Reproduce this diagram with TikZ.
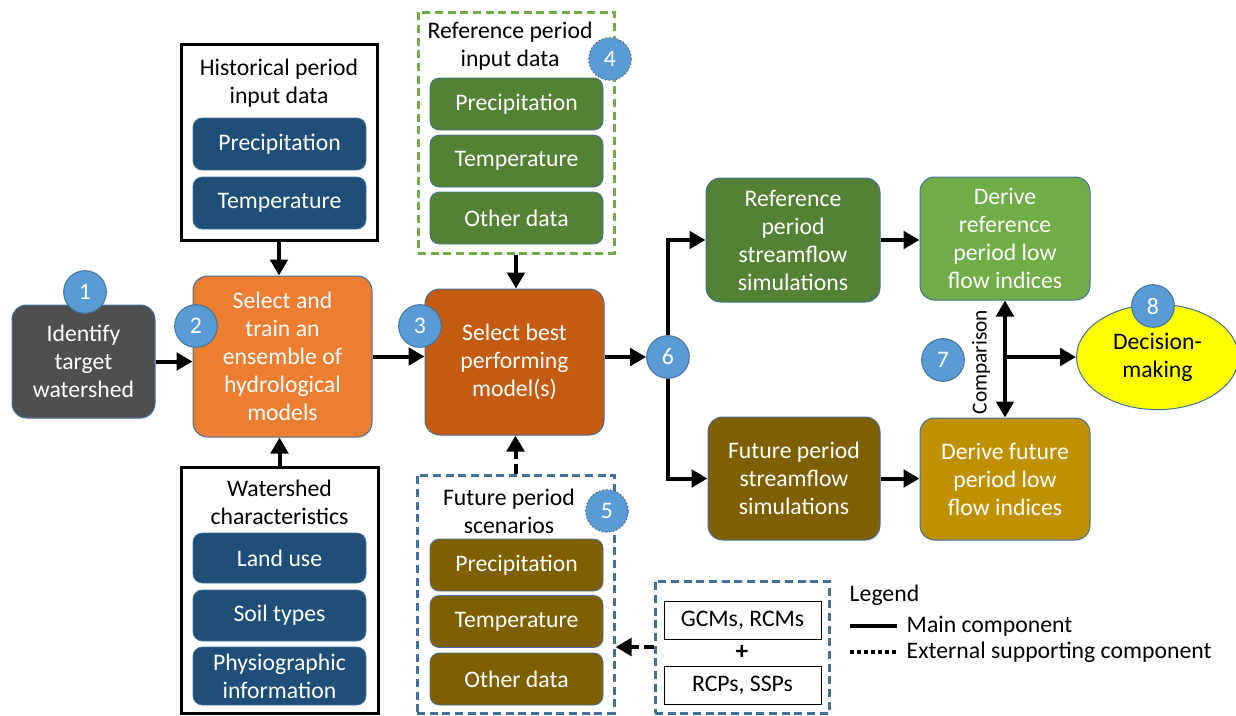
\documentclass[tikz,border=0pt]{standalone}
\usepackage{fontspec}
\setmainfont{Carlito}
\usetikzlibrary{arrows.meta,shapes.geometric}

\definecolor{numblue}{HTML}{5B9BD5}
\definecolor{edgeblue}{HTML}{41719C}
\definecolor{darkgrey}{HTML}{4F4F4F}
\definecolor{orangebox}{HTML}{ED7D31}
\definecolor{rustbox}{HTML}{C55A11}
\definecolor{navybox}{HTML}{1F4E79}
\definecolor{greenbox}{HTML}{548235}
\definecolor{lightgreen}{HTML}{70AD47}
\definecolor{brownbox}{HTML}{7F6000}
\definecolor{goldbox}{HTML}{BF9000}
\definecolor{decyellow}{HTML}{FFFF00}

\tikzset{
  txt/.style={font=\fontsize{17.8}{21}\selectfont},
  procbox/.style={txt, draw=edgeblue, line width=0.75pt, rounded corners=11pt,
    text=white, align=center, inner sep=2pt},
  databox/.style={txt, draw=edgeblue, line width=0.6pt, rounded corners=7pt,
    text=white, align=center, inner sep=1pt,
    minimum width=129.75pt, minimum height=39pt},
  framebox/.style={draw=black, line width=2.25pt, inner sep=0pt},
  dashframe/.style={line width=2.25pt, dash pattern=on 6pt off 3.5pt, inner sep=0pt},
  stepnum/.style={txt, circle, fill=numblue, draw=edgeblue, line width=0.75pt,
    text=white, minimum size=32pt, inner sep=0pt},
  mainarr/.style={line width=3pt, -{Triangle[length=12pt,width=13pt]}},
  extarr/.style={mainarr, dash pattern=on 7pt off 4pt},
  modelbox/.style={txt, draw=black, line width=0.75pt, fill=white,
    minimum width=117.75pt, minimum height=28.5pt, inner sep=1pt},
}

\begin{document}
\begin{tikzpicture}[x=0.75pt,y=0.75pt,yscale=-1]
\useasboundingbox (0,0) rectangle (1236,715);

%Shape: main process boxes
\node[procbox, fill=darkgrey, minimum width=107.25pt, minimum height=84.75pt]
  (identify) at (83.5,361.5) {Identify\\target\\watershed};
\node[procbox, fill=orangebox, minimum width=134.25pt, minimum height=120.75pt]
  (train) at (282.5,356.5) {Select and\\train an\\ensemble of\\hydrological\\models};
\node[procbox, fill=rustbox, minimum width=134.25pt, minimum height=109.5pt]
  (select) at (514.5,362) {Select best\\performing\\model(s)};

%Shape: historical period input data
\node[framebox, minimum width=147pt, minimum height=147pt] (hist) at (279,142) {};
\node[txt, align=center] (histtitle) at (279,83) {Historical period\\input data};
\node[databox, fill=navybox] (histprec) at (279.5,144) {Precipitation};
\node[databox, fill=navybox] (histtemp) at (279.5,203) {Temperature};

%Shape: watershed characteristics
\node[framebox, minimum width=147.75pt, minimum height=184.5pt] (shed) at (279.5,590) {};
\node[txt, align=center] (shedtitle) at (279.5,502) {Watershed\\characteristics};
\node[databox, fill=navybox, minimum height=37.5pt] (landuse) at (279.5,558) {Land use};
\node[databox, fill=navybox, minimum height=38.25pt] (soil) at (279.5,615.5) {Soil types};
\node[databox, fill=navybox, minimum height=43.5pt] (physio) at (279.5,676)
  {Physiographic\\information};

%Shape: reference period input data
\node[dashframe, draw=lightgreen, minimum width=147pt, minimum height=180.75pt]
  (refin) at (516,132.5) {};
\node[txt, align=center] (refintitle) at (510,46.5) {Reference period\\input data};
\node[databox, fill=greenbox] (refprec) at (516.5,104) {Precipitation};
\node[databox, fill=greenbox] (reftemp) at (516.5,161) {Temperature};
\node[databox, fill=greenbox] (refother) at (516.5,218) {Other data};

%Shape: future period scenarios
\node[dashframe, draw=edgeblue, minimum width=147.75pt, minimum height=178.5pt]
  (futin) at (515.5,594) {};
\node[txt, align=center] (futintitle) at (509,511) {Future period\\scenarios};
\node[databox, fill=brownbox] (futprec) at (516.5,565) {Precipitation};
\node[databox, fill=brownbox] (futtemp) at (516.5,621.5) {Temperature};
\node[databox, fill=brownbox] (futother) at (516.5,679) {Other data};

%Shape: climate models
\node[dashframe, draw=edgeblue, minimum width=130.5pt, minimum height=99pt]
  (gcm) at (742,647) {};
\node[modelbox] (gcmrcm) at (742.5,620) {GCMs, RCMs};
\node[txt, font=\fontsize{19}{21}\bfseries] (plus) at (742,652) {+};
\node[modelbox] (rcpssp) at (742.5,685) {RCPs, SSPs};

%Shape: streamflow and low flow boxes
\node[procbox, fill=greenbox, minimum width=130.5pt, minimum height=93pt]
  (refsim) at (793,240) {Reference\\period\\streamflow\\simulations};
\node[procbox, fill=lightgreen, minimum width=127.5pt, minimum height=92.25pt]
  (refidx) at (1005,238.5) {Derive\\reference\\period low\\flow indices};
\node[procbox, fill=brownbox, minimum width=129pt, minimum height=92.25pt]
  (futsim) at (794,478.5) {Future period\\streamflow\\simulations};
\node[procbox, fill=goldbox, minimum width=127.5pt, minimum height=91.5pt]
  (futidx) at (1005,479) {Derive future\\period low\\flow indices};
\node[txt, ellipse, draw=edgeblue, line width=0.75pt, fill=decyellow, align=center,
  minimum width=121.5pt, minimum height=79pt, inner sep=0pt]
  (decide) at (1157.5,357) {Decision-\\making};

%Shape: branch point
\node[stepnum] (n6) at (668,357) {6};

%Straight Lines
\draw[mainarr] (identify.east) -- (identify.east -| train.west);
\draw[mainarr] (train.east) -- (train.east -| select.west);
\draw[mainarr] (hist.south) -- (hist.south |- train.north);
\draw[mainarr] (shed.north) -- (shed.north |- train.south);
\draw[mainarr] (refin.south) -- (refin.south |- select.north);
\draw[extarr] (futin.north) -- (futin.north |- select.south);
\draw[extarr] (gcm.west) -- (gcm.west -| futin.east);
\draw[mainarr] (select.east |- n6.west) -- (n6.west);
\draw[mainarr] (n6.north) |- (refsim.west);
\draw[mainarr] (n6.south) |- (futsim.west);
\draw[mainarr] (refsim.east) -- (refsim.east -| refidx.west);
\draw[mainarr] (futsim.east) -- (futsim.east -| futidx.west);
\draw[line width=3pt, {Triangle[length=12pt,width=13pt]}-{Triangle[length=12pt,width=13pt]}]
  (refidx.south) -- (futidx.north);
\coordinate (join) at (1005,357);
\draw[mainarr] (join) -- (decide.west);

% Text Node
\node[font=\fontsize{16}{18}\selectfont, rotate=90] (compare) at (981,362) {Comparison};

%Shape: step numbers
\node[stepnum] (n1) at (85,292) {1};
\node[stepnum] (n2) at (196,326) {2};
\node[stepnum] (n3) at (420,326) {3};
\node[stepnum, draw=black!70, dotted] (n4) at (610,59) {4};
\node[stepnum, draw=black!70, dotted] (n5) at (607,511) {5};
\node[stepnum] (n7) at (943,360) {7};
\node[stepnum] (n8) at (1153,306) {8};

% Legend
\node[txt, anchor=west] (legend) at (845,595) {Legend};
\coordinate (solidA) at (850,626);
\coordinate (solidB) at (897,626);
\coordinate (dotA) at (850,652);
\coordinate (dotB) at (897,652);
\draw[line width=3pt] (solidA) -- (solidB);
\draw[line width=3pt, dash pattern=on 3pt off 2.2pt] (dotA) -- (dotB);
\node[txt, anchor=west] (mainlbl) at (902,626) {Main component};
\node[txt, anchor=west] (extlbl) at (902,652) {External supporting component};
\end{tikzpicture}
\end{document}
